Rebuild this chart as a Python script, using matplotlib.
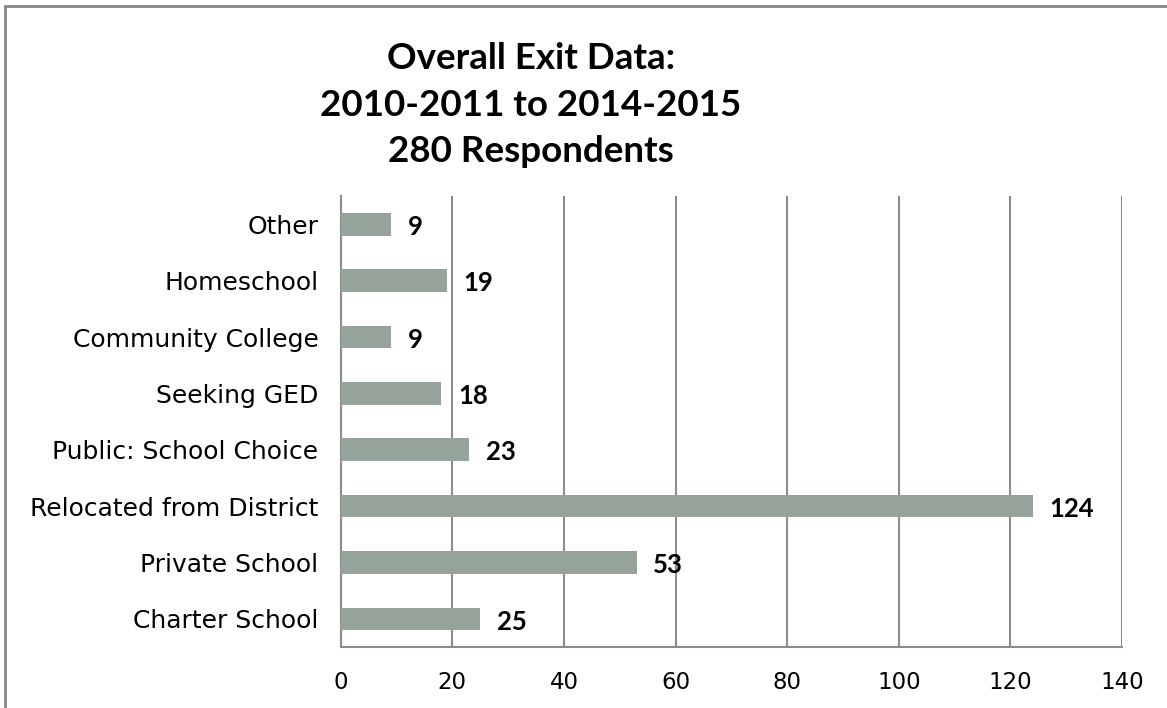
import matplotlib.pyplot as plt
from matplotlib.patches import Rectangle

# Data
categories = ['Charter School', 'Private School', 'Relocated from District',
              'Public: School Choice', 'Seeking GED', 'Community College',
              'Homeschool', 'Other']
counts = [25, 53, 124, 23, 18, 9, 19, 9]
x_ticks = [0, 20, 40, 60, 80, 100, 120, 140]

plt.rcParams['font.family'] = ['DejaVu Sans']

fig = plt.figure(figsize=(11.67, 7.08), dpi=100)
ax = fig.add_axes([0.292, 0.0862, 0.6694, 0.6368])

grid_col = '#8c8c8c'
ax.barh(range(len(categories)), counts, height=0.4, color='#95a39a', zorder=3)

for i, v in enumerate(counts):
    ax.annotate(str(v), (v, i), xytext=(12, -2), textcoords='offset points',
                ha='left', va='center', fontsize=18.5, fontweight='bold', zorder=4,
                family='Lato')

ax.set_xlim(0, 140)
ax.set_ylim(-0.5, len(categories) - 0.5)
ax.set_xticks(x_ticks)
ax.set_yticks(range(len(categories)))
ax.set_yticklabels(categories)
ax.tick_params(axis='both', length=0, colors='black')
ax.tick_params(axis='x', pad=17, labelsize=16.5)
ax.tick_params(axis='y', pad=16, labelsize=18)
ax.xaxis.grid(True, color=grid_col, linewidth=1.5, zorder=0)
ax.set_axisbelow(True)

for s in ['top', 'right']:
    ax.spines[s].set_visible(False)
for s in ['left', 'bottom']:
    ax.spines[s].set_color(grid_col)
    ax.spines[s].set_linewidth(1.5)

fig.text(0.455, 0.851, 'Overall Exit Data:\n2010-2011 to 2014-2015\n280 Respondents',
         ha='center', va='center', fontsize=26.5, fontweight='bold', linespacing=1.5,
         family='Lato')

# outer frame (cropped at right and bottom)
fig.patches.append(Rectangle((5 / 1167, -0.1), 1.2, 1.1 - 6 / 708, transform=fig.transFigure,
                             fill=False, edgecolor='#868686', linewidth=2))

fig.savefig('out.png', dpi=100)
